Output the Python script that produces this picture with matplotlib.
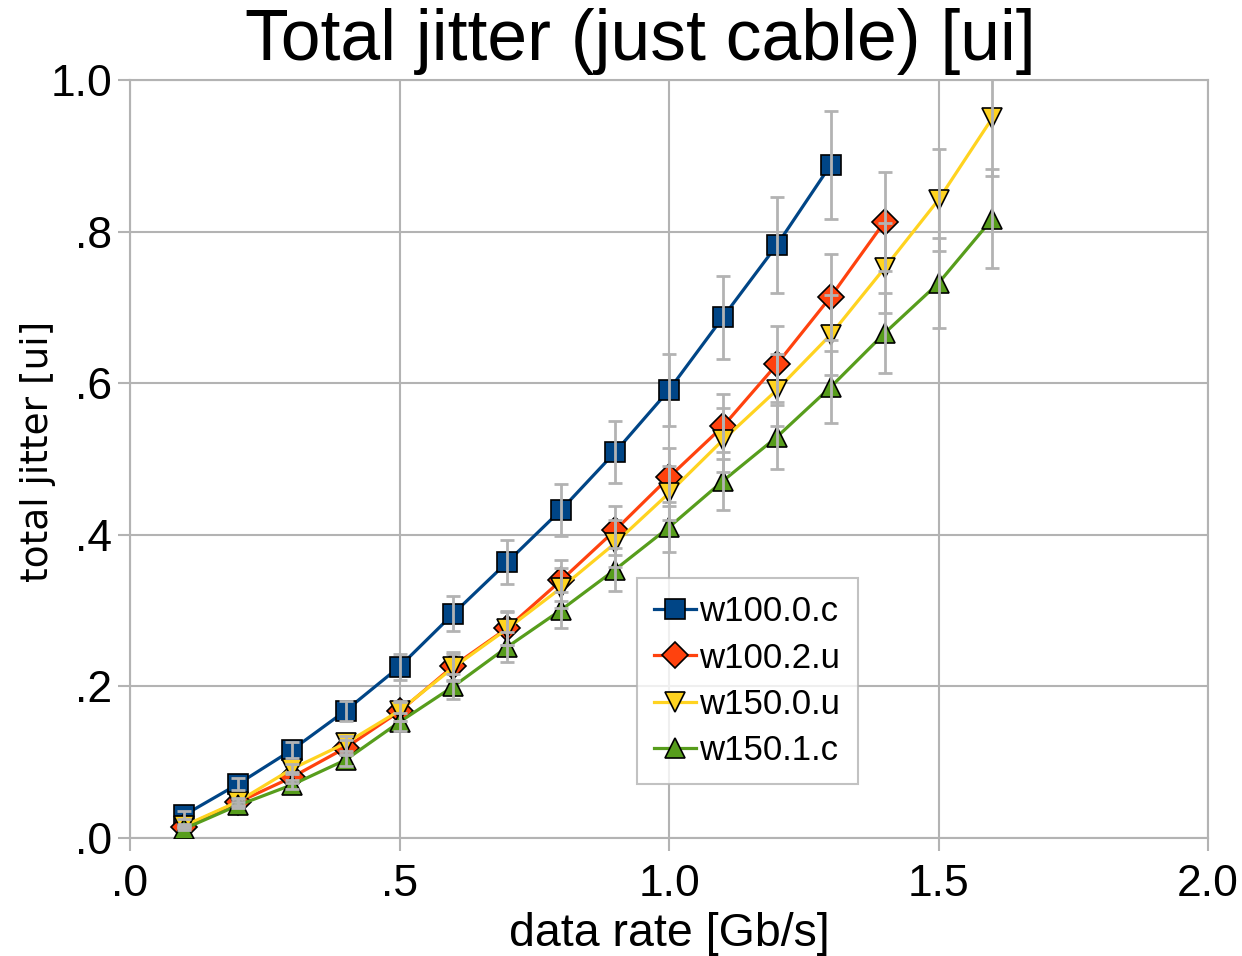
import matplotlib
matplotlib.use("Agg")
import matplotlib.pyplot as plt
from matplotlib.ticker import FixedLocator, FixedFormatter

plt.rcParams['font.family'] = ['Liberation Sans', 'DejaVu Sans']

x_blue = [0.1, 0.2, 0.3, 0.4, 0.5, 0.6, 0.7, 0.8, 0.9, 1.0, 1.1, 1.2, 1.3]
y_blue = [0.030, 0.071, 0.116, 0.168, 0.226, 0.296, 0.364, 0.433, 0.509, 0.591, 0.687, 0.782, 0.888]
e_blue = [0.005, 0.008, 0.010, 0.013, 0.017, 0.023, 0.029, 0.034, 0.041, 0.047, 0.055, 0.063, 0.071]

x_red = [0.1, 0.2, 0.3, 0.4, 0.5, 0.6, 0.7, 0.8, 0.9, 1.0, 1.1, 1.2, 1.3, 1.4]
y_red = [0.015, 0.047, 0.080, 0.119, 0.167, 0.227, 0.277, 0.340, 0.406, 0.476, 0.543, 0.625, 0.714, 0.813]
e_red = [0.002, 0.005, 0.007, 0.010, 0.013, 0.018, 0.022, 0.027, 0.032, 0.038, 0.043, 0.050, 0.057, 0.065]

x_yel = [0.1, 0.2, 0.3, 0.4, 0.5, 0.6, 0.7, 0.8, 0.9, 1.0, 1.1, 1.2, 1.3, 1.4, 1.5, 1.6]
y_yel = [0.016, 0.048, 0.091, 0.125, 0.168, 0.225, 0.276, 0.330, 0.389, 0.455, 0.525, 0.591, 0.664, 0.752, 0.842, 0.950]
e_yel = [0.002, 0.005, 0.007, 0.010, 0.013, 0.018, 0.022, 0.026, 0.031, 0.036, 0.042, 0.047, 0.053, 0.060, 0.067, 0.076]

x_grn = [0.1, 0.2, 0.3, 0.4, 0.5, 0.6, 0.7, 0.8, 0.9, 1.0, 1.1, 1.2, 1.3, 1.4, 1.5, 1.6]
y_grn = [0.012, 0.043, 0.070, 0.103, 0.153, 0.200, 0.252, 0.301, 0.354, 0.410, 0.471, 0.529, 0.595, 0.666, 0.732, 0.817]
e_grn = [0.002, 0.004, 0.006, 0.008, 0.012, 0.016, 0.020, 0.024, 0.028, 0.033, 0.038, 0.042, 0.048, 0.053, 0.059, 0.065]

series = [
    ("w100.0.c", x_blue, y_blue, e_blue, "#004586", "s", 15),
    ("w100.2.u", x_red, y_red, e_red, "#ff420e", "D", 13),
    ("w150.0.u", x_yel, y_yel, e_yel, "#ffd320", "v", 15),
    ("w150.1.c", x_grn, y_grn, e_grn, "#579d1c", "^", 15),
]

xticks = [0.0, 0.5, 1.0, 1.5, 2.0]
xticklabels = [".0", ".5", "1.0", "1.5", "2.0"]
yticks = [0.0, 0.2, 0.4, 0.6, 0.8, 1.0]
yticklabels = [".0", ".2", ".4", ".6", ".8", "1.0"]

fig = plt.figure(figsize=(12.42, 9.56), dpi=100)
ax = fig.add_axes([130/1242, 1-838/956, (1208-130)/1242, (838-80)/956])

grid_c = "#b3b3b3"
for name, xs, ys, es, c, m, ms in series:
    ax.plot(xs, ys, color=c, lw=2.3, marker=m, markersize=ms,
            markerfacecolor=c, markeredgecolor="black", markeredgewidth=1.2,
            label=name, zorder=3)
for name, xs, ys, es, c, m, ms in series:
    ax.errorbar(xs, ys, yerr=es, fmt="none", ecolor=grid_c, elinewidth=2,
                capsize=5, capthick=2, zorder=4)

ax.set_xlim(0, 2.0)
ax.set_ylim(0, 1.0)
ax.xaxis.set_major_locator(FixedLocator(xticks))
ax.xaxis.set_major_formatter(FixedFormatter(xticklabels))
ax.yaxis.set_major_locator(FixedLocator(yticks))
ax.yaxis.set_major_formatter(FixedFormatter(yticklabels))
ax.grid(True, color=grid_c, lw=1.5, zorder=0)
ax.set_axisbelow(True)
for s in ax.spines.values():
    s.set_color(grid_c)
    s.set_linewidth(1.5)
ax.tick_params(axis="both", length=9, width=1.5, color=grid_c, labelsize=32)
ax.tick_params(axis="x", pad=10)
ax.tick_params(axis="y", pad=4)

fig.text(640/1242, 1-60/956, "Total jitter (just cable) [ui]", fontsize=51.5,
         ha="center", va="baseline")
ax.set_xlabel("data rate [Gb/s]", fontsize=33.5, labelpad=5)
ax.set_ylabel("total jitter [ui]", fontsize=27, family=["DejaVu Sans"])
ax.yaxis.set_label_coords((56-130)/1078, (838-451)/758)

leg = ax.legend(loc="upper left", bbox_to_anchor=(637/1242, 1-578/956),
                bbox_transform=fig.transFigure, fontsize=25, frameon=True,
                fancybox=False, edgecolor=grid_c, handlelength=1.2,
                handletextpad=0.1, labelspacing=0.38, borderpad=0.5,
                borderaxespad=0)
leg.get_frame().set_linewidth(1.5)

fig.savefig("out.png", dpi=100)
